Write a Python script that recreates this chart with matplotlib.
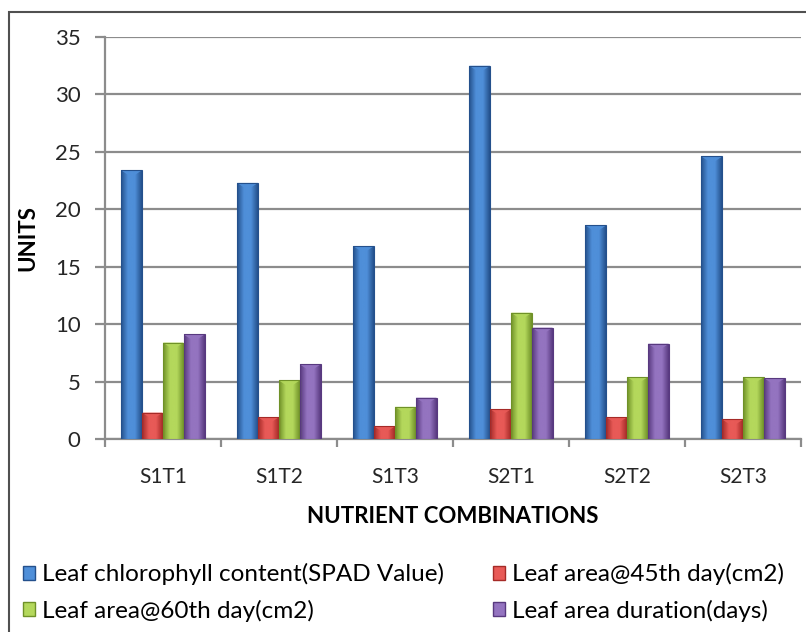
import numpy as np
import matplotlib
matplotlib.use("Agg")
import matplotlib.pyplot as plt
from matplotlib.patches import Rectangle, Patch
from matplotlib.colors import LinearSegmentedColormap

categories = ["S1T1", "S1T2", "S1T3", "S2T1", "S2T2", "S2T3"]
series_names = ["Leaf chlorophyll content(SPAD Value)", "Leaf area@45th day(cm2)",
                "Leaf area@60th day(cm2)", "Leaf area duration(days)"]
chlorophyll = [23.4, 22.3, 16.8, 32.5, 18.6, 24.6]
area_45 = [2.3, 1.9, 1.1, 2.6, 1.9, 1.7]
area_60 = [8.4, 5.1, 2.8, 11.0, 5.4, 5.4]
duration = [9.1, 6.5, 3.6, 9.7, 8.3, 5.3]
yticks = [0, 5, 10, 15, 20, 25, 30, 35]

series = [chlorophyll, area_45, area_60, duration]
# (dark edge, light centre) for the gradient fill
colors = [("#24508c", "#4f8fd9"), ("#a52a27", "#e85a57"),
          ("#6f9128", "#b4d85c"), ("#58397f", "#9474c0")]

plt.rcParams['font.family'] = ['Lato', 'DejaVu Sans']

fig = plt.figure(figsize=(8.06, 6.32), dpi=100)
ax = fig.add_axes([0.130, 0.3054, 0.864, 0.636])

x = np.arange(len(categories))
w = 0.18
grid_c = "#8c8c8c"

for i, vals in enumerate(series):
    dark, light = colors[i]
    cmap = LinearSegmentedColormap.from_list("g%d" % i, [dark, light, light, dark])
    bars = ax.bar(x + (i - 1.5) * w, vals, w, color=light, edgecolor="none", zorder=3)
    grad = np.linspace(0, 1, 64).reshape(1, -1)
    for b in bars:
        x0, y0 = b.get_x(), b.get_y()
        bw, bh = b.get_width(), b.get_height()
        im = ax.imshow(grad, cmap=cmap, aspect="auto", extent=(x0, x0 + bw, y0, y0 + bh),
                       zorder=4, interpolation="bicubic")
        im.set_clip_path(b)
        # lighter bevel on top of each bar
        tri = plt.Polygon([(x0, y0 + bh), (x0 + bw, y0 + bh), (x0 + bw / 2, y0 + bh - 0.6)],
                          closed=True, color=light, alpha=0.9, zorder=5, lw=0)
        ax.add_patch(tri)
        ax.add_patch(Rectangle((x0, y0), bw, bh, fill=False, ec=dark, lw=0.8, zorder=6))

ax.set_xlim(-0.5, len(categories) - 0.5)
ax.set_ylim(0, 35)
ax.set_yticks(yticks)
ax.yaxis.grid(True, color=grid_c, lw=1.6, zorder=0)
ax.set_axisbelow(True)
for s in ["top", "right"]:
    ax.spines[s].set_visible(False)
for s in ["left", "bottom"]:
    ax.spines[s].set_color(grid_c)
    ax.spines[s].set_linewidth(1.6)

ax.set_xticks(x)
ax.set_xticklabels(categories, fontsize=15, color="#262626")
ax.tick_params(axis="x", which="major", length=0, pad=20)
ax.set_xticks(np.arange(len(categories) + 1) - 0.5, minor=True)
ax.tick_params(axis="x", which="minor", length=6, width=1.6, color=grid_c, direction="out")
ax.tick_params(axis="y", length=7.5, width=1.6, color=grid_c, labelsize=16, pad=10,
               labelcolor="#262626")

ax.set_ylabel("UNITS", fontsize=16, fontweight="bold", labelpad=12)
ax.set_xlabel("NUTRIENT COMBINATIONS", fontsize=16, fontweight="bold", labelpad=14)

handles = [Patch(facecolor=colors[i][1], edgecolor=colors[i][0]) for i in range(4)]
order = [0, 2, 1, 3]
fig.legend([handles[k] for k in order], [series_names[k] for k in order], ncol=2,
           loc="lower left", bbox_to_anchor=(0.007, -0.011), borderaxespad=0.3,
           frameon=False, fontsize=17.5, handlelength=0.5, handleheight=0.5,
           handletextpad=0.3, columnspacing=2.0, labelspacing=0.6)

# chart border
fig.add_artist(Rectangle((9 / 806, -0.5), 2, 0.5 + 1 - 12 / 632, transform=fig.transFigure,
                         fill=False, ec="#505050", lw=1.5))

fig.savefig("out.png", dpi=100)
